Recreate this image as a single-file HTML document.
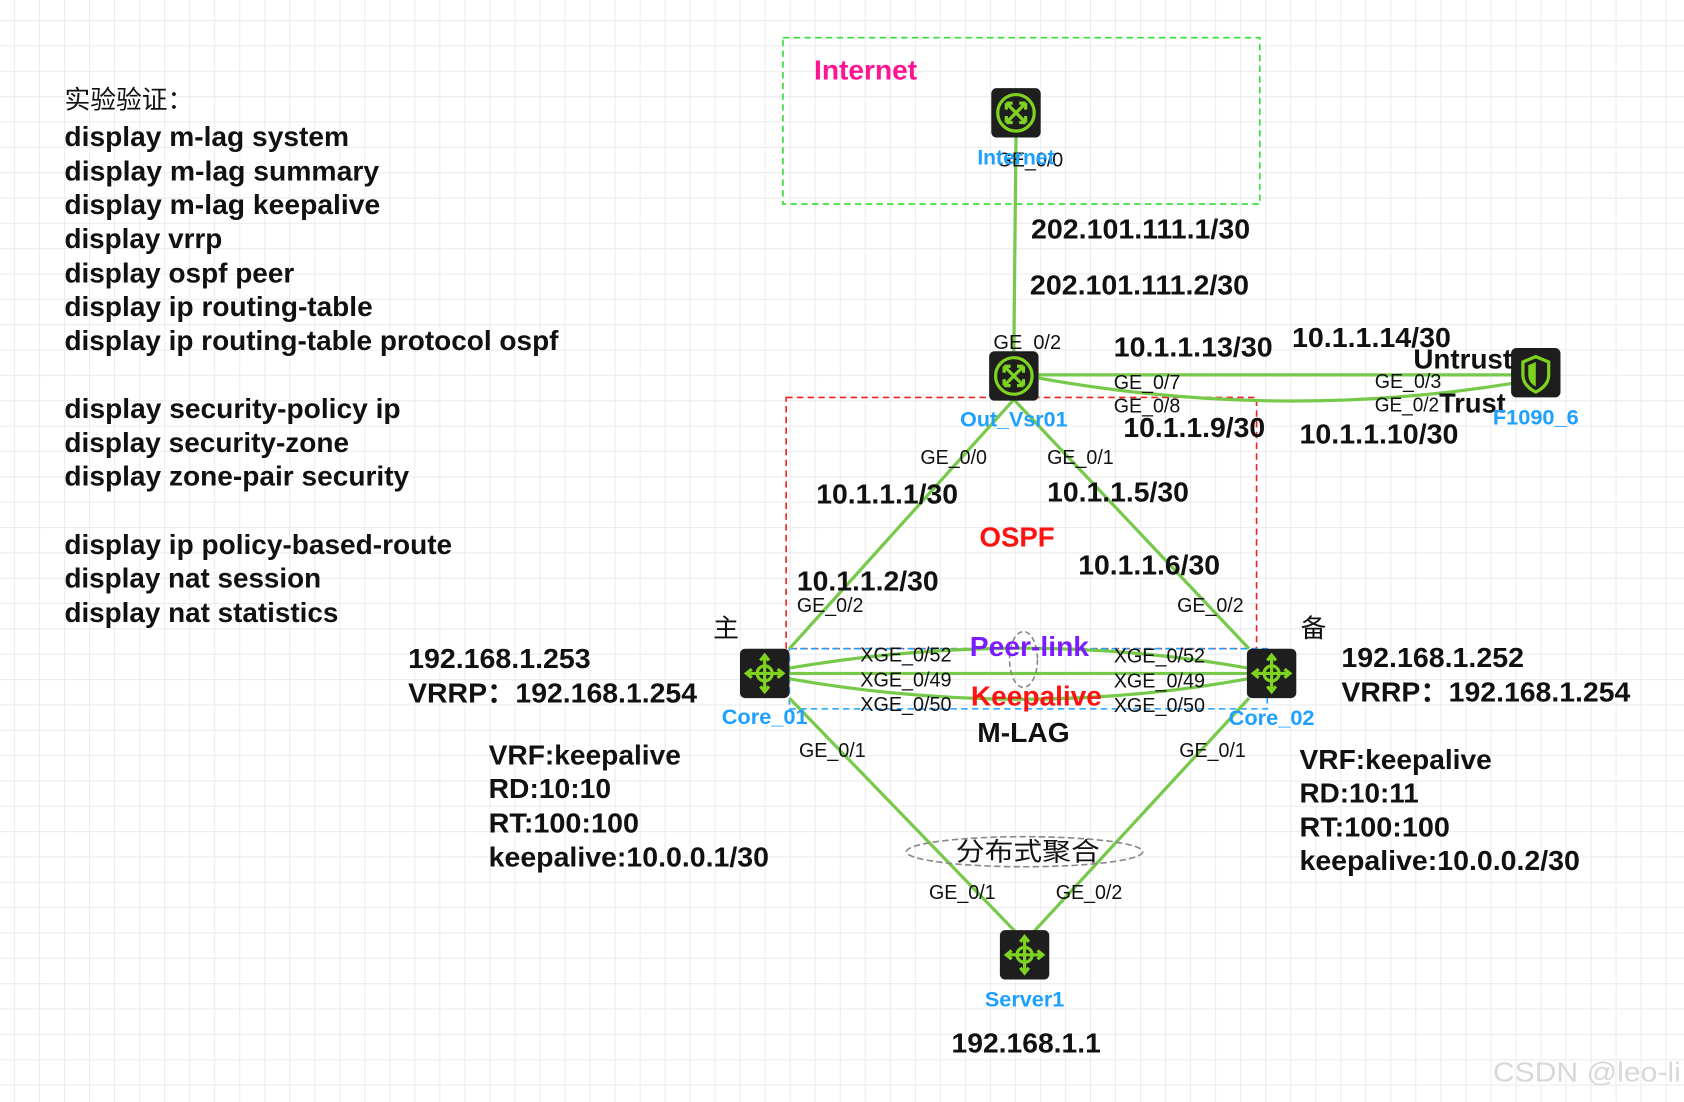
<!DOCTYPE html>
<html><head><meta charset="utf-8"><style>
html,body{margin:0;padding:0;background:#fff}
svg{display:block}
text{font-family:"Liberation Sans","Noto Sans CJK SC",sans-serif}
.b{font-weight:bold}
</style></head><body>
<svg width="1684" height="1102" viewBox="0 0 1568 1026" xmlns="http://www.w3.org/2000/svg">
<defs>
<pattern id="g" x="13" y="18.6" width="23.3" height="23.6" patternUnits="userSpaceOnUse">
<path d="M0 0H23.3M0 0V23.6" stroke="#ececec" stroke-width="2" fill="none"/>
</pattern>
<g id="rt"><rect x="-23" y="-23" width="46" height="46" rx="5" fill="#1e1e1e"/><circle r="17" fill="none" stroke="#7ed321" stroke-width="3"/><path d="M-9-9L9 9M9-9L-9 9M-9-9h6M-9-9v6M9 9h-6M9 9v-6M9-9h-6M9-9v6M-9 9h6M-9 9v-6" stroke="#7ed321" stroke-width="3" fill="none"/></g>
<g id="sw"><rect x="-23" y="-23" width="46" height="46" rx="5" fill="#1e1e1e"/><circle r="7" fill="none" stroke="#7ed321" stroke-width="3"/><path d="M0-17V17M-17 0H17M-4-12L0-17L4-12M-4 12L0 17L4 12M-12-4L-17 0L-12 4M12-4L17 0L12 4" stroke="#7ed321" stroke-width="3" fill="none"/></g>
</defs>
<rect width="1568" height="1026" fill="url(#g)"/>
<rect x="729" y="35" width="444" height="155" fill="none" stroke="#33dd33" stroke-width="1.5" stroke-dasharray="6,4"/>
<rect x="732" y="370" width="438" height="234" fill="none" stroke="#ee2222" stroke-width="1.5" stroke-dasharray="6,4"/>
<rect x="735" y="604" width="445" height="56" fill="none" stroke="#1ea0ff" stroke-width="1.5" stroke-dasharray="6,4"/>
<g stroke="#77c94a" stroke-width="3" fill="none">
<path d="M946 128L944 327"/>
<path d="M967 349L1408 349"/>
<path d="M967 352Q1190 392 1408 357"/>
<path d="M944 372L735 604"/>
<path d="M944 372L1163 604"/>
<path d="M735 622Q953 585 1162 622"/>
<path d="M735 627L1162 627"/>
<path d="M735 632Q953 670 1162 632"/>
<path d="M735 650L945 867"/>
<path d="M1163 650L963 867"/>
</g>
<ellipse cx="953" cy="614" rx="13" ry="26" fill="none" stroke="#888" stroke-width="1.5" stroke-dasharray="5,3"/>
<ellipse cx="954" cy="793" rx="110" ry="14" fill="none" stroke="#888" stroke-width="1.5" stroke-dasharray="6,3"/>
<use href="#rt" x="946" y="105"/>
<use href="#rt" x="944" y="350"/>
<use href="#sw" x="712" y="627"/>
<use href="#sw" x="1184" y="627"/>
<use href="#sw" x="954" y="889"/>
<g transform="translate(1430,347)"><rect x="-23" y="-23" width="46" height="46" rx="5" fill="#1e1e1e"/><path d="M0-15L12-10V2Q12 12 0 18Q-12 12-12 2V-10Z" fill="none" stroke="#7ed321" stroke-width="3"/><path d="M0-10V13Q-7 9-7 2V-7Z" fill="#7ed321"/></g>
<g class="b" font-size="26" fill="#111">
<text x="60" y="101" font-weight="normal" font-size="24" font-family="Noto Serif CJK SC,serif">实验验证：</text>
<text x="60" y="136" textLength="265" lengthAdjust="spacingAndGlyphs">display m-lag system</text>
<text x="60" y="168" textLength="293" lengthAdjust="spacingAndGlyphs">display m-lag summary</text>
<text x="60" y="199" textLength="294" lengthAdjust="spacingAndGlyphs">display m-lag keepalive</text>
<text x="60" y="231" textLength="147" lengthAdjust="spacingAndGlyphs">display vrrp</text>
<text x="60" y="263" textLength="214" lengthAdjust="spacingAndGlyphs">display ospf peer</text>
<text x="60" y="294" textLength="287" lengthAdjust="spacingAndGlyphs">display ip routing-table</text>
<text x="60" y="326" textLength="460" lengthAdjust="spacingAndGlyphs">display ip routing-table protocol ospf</text>
<text x="60" y="389" textLength="313" lengthAdjust="spacingAndGlyphs">display security-policy ip</text>
<text x="60" y="421" textLength="265" lengthAdjust="spacingAndGlyphs">display security-zone</text>
<text x="60" y="452" textLength="321" lengthAdjust="spacingAndGlyphs">display zone-pair security</text>
<text x="60" y="516" textLength="361" lengthAdjust="spacingAndGlyphs">display ip policy-based-route</text>
<text x="60" y="547" textLength="239" lengthAdjust="spacingAndGlyphs">display nat session</text>
<text x="60" y="579" textLength="255" lengthAdjust="spacingAndGlyphs">display nat statistics</text>
</g>
<text x="758" y="74" class="b" font-size="26" fill="#ff1493" textLength="96" lengthAdjust="spacingAndGlyphs">Internet</text>
<g class="b" font-size="26" fill="#111">
<text x="960" y="222" textLength="204" lengthAdjust="spacingAndGlyphs">202.101.111.1/30</text>
<text x="959" y="274" textLength="204" lengthAdjust="spacingAndGlyphs">202.101.111.2/30</text>
<text x="1037" y="332" textLength="148" lengthAdjust="spacingAndGlyphs">10.1.1.13/30</text>
<text x="1203" y="323" textLength="148" lengthAdjust="spacingAndGlyphs">10.1.1.14/30</text>
<text x="1316" y="343" textLength="92" lengthAdjust="spacingAndGlyphs">Untrust</text>
<text x="1340" y="384" textLength="62" lengthAdjust="spacingAndGlyphs">Trust</text>
<text x="1046" y="407" textLength="132" lengthAdjust="spacingAndGlyphs">10.1.1.9/30</text>
<text x="1210" y="413" textLength="148" lengthAdjust="spacingAndGlyphs">10.1.1.10/30</text>
<text x="760" y="469" textLength="132" lengthAdjust="spacingAndGlyphs">10.1.1.1/30</text>
<text x="975" y="467" textLength="132" lengthAdjust="spacingAndGlyphs">10.1.1.5/30</text>
<text x="1004" y="535" textLength="132" lengthAdjust="spacingAndGlyphs">10.1.1.6/30</text>
<text x="742" y="550" textLength="132" lengthAdjust="spacingAndGlyphs">10.1.1.2/30</text>
<text x="380" y="622" textLength="170" lengthAdjust="spacingAndGlyphs">192.168.1.253</text>
<text x="380" y="654" textLength="269" lengthAdjust="spacingAndGlyphs">VRRP：192.168.1.254</text>
<text x="1249" y="621" textLength="170" lengthAdjust="spacingAndGlyphs">192.168.1.252</text>
<text x="1249" y="653" textLength="269" lengthAdjust="spacingAndGlyphs">VRRP：192.168.1.254</text>
<text x="910" y="691" textLength="86" lengthAdjust="spacingAndGlyphs">M-LAG</text>
<text x="455" y="712" textLength="179" lengthAdjust="spacingAndGlyphs">VRF:keepalive</text>
<text x="455" y="743" textLength="114" lengthAdjust="spacingAndGlyphs">RD:10:10</text>
<text x="455" y="775" textLength="140" lengthAdjust="spacingAndGlyphs">RT:100:100</text>
<text x="455" y="807" textLength="261" lengthAdjust="spacingAndGlyphs">keepalive:10.0.0.1/30</text>
<text x="1210" y="716" textLength="179" lengthAdjust="spacingAndGlyphs">VRF:keepalive</text>
<text x="1210" y="747" textLength="111" lengthAdjust="spacingAndGlyphs">RD:10:11</text>
<text x="1210" y="779" textLength="140" lengthAdjust="spacingAndGlyphs">RT:100:100</text>
<text x="1210" y="810" textLength="261" lengthAdjust="spacingAndGlyphs">keepalive:10.0.0.2/30</text>
<text x="886" y="980" textLength="139" lengthAdjust="spacingAndGlyphs">192.168.1.1</text>
</g>
<text x="912" y="509" class="b" font-size="26" fill="#ff1111" textLength="70" lengthAdjust="spacingAndGlyphs">OSPF</text>
<text x="903" y="611" class="b" font-size="26" fill="#7a1cff" textLength="111" lengthAdjust="spacingAndGlyphs">Peer-link</text>
<text x="904" y="657" class="b" font-size="26" fill="#ff1111" textLength="122" lengthAdjust="spacingAndGlyphs">Keepalive</text>
<g font-size="19" fill="#111">
<text x="928" y="155" textLength="62" lengthAdjust="spacingAndGlyphs">GE_0/0</text>
<text x="925" y="325" textLength="63" lengthAdjust="spacingAndGlyphs">GE_0/2</text>
<text x="1037" y="362" textLength="62" lengthAdjust="spacingAndGlyphs">GE_0/7</text>
<text x="1037" y="384" textLength="62" lengthAdjust="spacingAndGlyphs">GE_0/8</text>
<text x="1280" y="361" textLength="62" lengthAdjust="spacingAndGlyphs">GE_0/3</text>
<text x="1280" y="383" textLength="60" lengthAdjust="spacingAndGlyphs">GE_0/2</text>
<text x="857" y="432" textLength="62" lengthAdjust="spacingAndGlyphs">GE_0/0</text>
<text x="975" y="432" textLength="62" lengthAdjust="spacingAndGlyphs">GE_0/1</text>
<text x="742" y="570" textLength="62" lengthAdjust="spacingAndGlyphs">GE_0/2</text>
<text x="1096" y="570" textLength="62" lengthAdjust="spacingAndGlyphs">GE_0/2</text>
<text x="801" y="616" textLength="85" lengthAdjust="spacingAndGlyphs">XGE_0/52</text>
<text x="801" y="639" textLength="85" lengthAdjust="spacingAndGlyphs">XGE_0/49</text>
<text x="801" y="662" textLength="85" lengthAdjust="spacingAndGlyphs">XGE_0/50</text>
<text x="1037" y="617" textLength="85" lengthAdjust="spacingAndGlyphs">XGE_0/52</text>
<text x="1037" y="640" textLength="85" lengthAdjust="spacingAndGlyphs">XGE_0/49</text>
<text x="1037" y="663" textLength="85" lengthAdjust="spacingAndGlyphs">XGE_0/50</text>
<text x="744" y="705" textLength="62" lengthAdjust="spacingAndGlyphs">GE_0/1</text>
<text x="1098" y="705" textLength="62" lengthAdjust="spacingAndGlyphs">GE_0/1</text>
<text x="865" y="837" textLength="62" lengthAdjust="spacingAndGlyphs">GE_0/1</text>
<text x="983" y="837" textLength="62" lengthAdjust="spacingAndGlyphs">GE_0/2</text>
</g>
<g class="b" font-size="20" fill="#1ea0ff">
<text x="910" y="153" textLength="72" lengthAdjust="spacingAndGlyphs">Internet</text>
<text x="894" y="397" textLength="100" lengthAdjust="spacingAndGlyphs">Out_Vsr01</text>
<text x="1390" y="395" textLength="80" lengthAdjust="spacingAndGlyphs">F1090_6</text>
<text x="672" y="674" textLength="80" lengthAdjust="spacingAndGlyphs">Core_01</text>
<text x="1144" y="675" textLength="80" lengthAdjust="spacingAndGlyphs">Core_02</text>
<text x="917" y="937" textLength="74" lengthAdjust="spacingAndGlyphs">Server1</text>
</g>
<g font-size="24" fill="#111">
<text x="664" y="593" font-family="Noto Serif CJK SC,serif">主</text>
<text x="1211" y="593" font-family="Noto Serif CJK SC,serif">备</text>
<text x="890" y="801" font-family="Noto Serif CJK SC,serif" textLength="134" lengthAdjust="spacingAndGlyphs">分布式聚合</text>
</g>
<text x="1390" y="1007" font-size="26" fill="#d8d8d8" textLength="175" lengthAdjust="spacingAndGlyphs">CSDN @leo-li</text>
</svg>
</body></html>
